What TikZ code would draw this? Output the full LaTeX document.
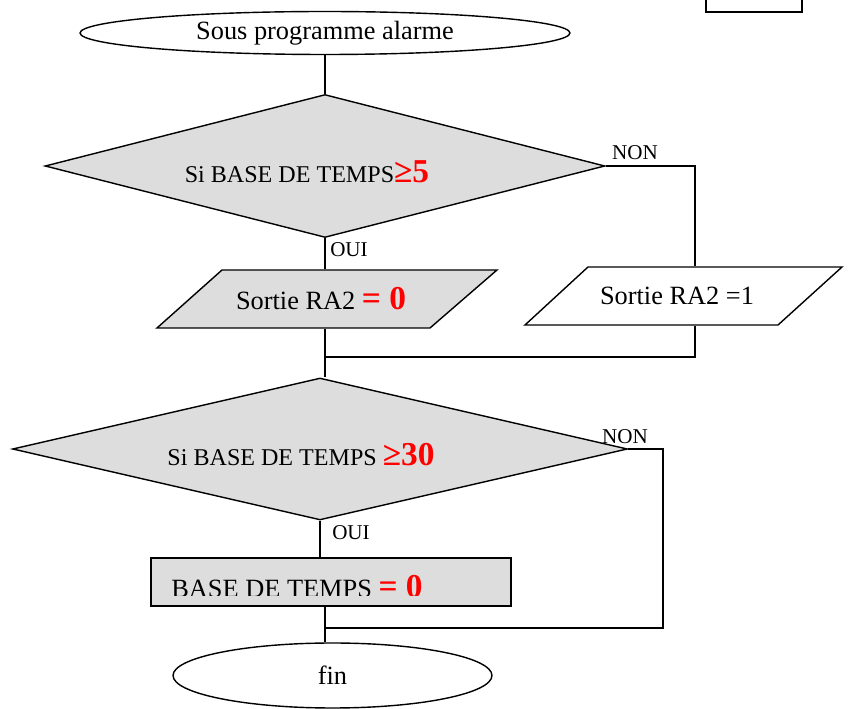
\documentclass[tikz,border=0pt]{standalone}
\usepackage{fontspec}
\setmainfont{Liberation Serif}
\usepackage{tikz}
\usetikzlibrary{positioning,shapes.geometric}
\definecolor{boxgray}{HTML}{DDDDDD}
\newcommand{\redval}[1]{\textcolor{red}{\bfseries\fontsize{19}{22}\selectfont #1}}

\begin{document}
\begin{tikzpicture}[
    x=0.02cm, y=-0.02cm,
    line width=0.8pt,
    every node/.style = {font=\fontsize{15}{18}\selectfont},
    term/.style = {draw, ellipse, inner sep=0pt},
    test/.style = {draw, diamond, fill=boxgray, inner sep=0pt},
    io/.style = {draw, line join=miter},
    slot/.style = {inner sep=0pt, minimum height=1.16cm},
    box/.style = {draw, rectangle, fill=boxgray, inner sep=0pt},
    txt/.style = {inner sep=0pt, font=\fontsize{13.7}{16}\selectfont},
    tag/.style = {inner sep=0pt, font=\fontsize{12}{14}\selectfont}
]
\useasboundingbox (0,0) rectangle (850,709);

\node (corner) [draw, minimum width=1.92cm, minimum height=0.88cm] at (754,-10) {};
\node (start) [term, minimum width=9.8cm, minimum height=0.86cm] at (325,33) {Sous programme alarme};

\node (d1) [test, minimum width=11.2cm, minimum height=2.86cm] at (325,166) {};
\node (t1) [txt] at (307,172) {Si BASE DE TEMPS\redval{≥5}};

% parallelograms
\draw[io, fill=boxgray] (222,270) -- (497,270) -- (430,328) -- (157,328) -- cycle;
\node (p1) [slot] at (321,299) {Sortie RA2 \redval{= 0}};
\draw[io] (588,267) -- (842,267) -- (778,325) -- (525,325) -- cycle;
\node (p2) [slot] at (677,296) {Sortie RA2 =1};
\coordinate (j1) at (325,357);

\node (d2) [test, minimum width=12.3cm, minimum height=2.84cm] at (320,449) {};
\node (t4) [txt] at (301,455) {Si BASE DE TEMPS \redval{≥30}};
\node (raz) [box, minimum width=7.2cm, minimum height=0.96cm] at (331,582) {};
\begin{scope}
  \clip ([yshift=0.22cm]raz.south west) rectangle (raz.north east);
  \node (t5) [inner sep=0pt, anchor=base] at (297,598) {BASE DE TEMPS \redval{= 0}};
\end{scope}
\coordinate (j2) at (325,628);
\node (fin) [term, minimum width=6.38cm, minimum height=1.3cm] at (332.5,675.5) {fin};

\node (non1) [tag] at (635,153) {NON};
\node (oui1) [tag] at (349,250) {OUI};
\node (non2) [tag] at (625,437) {NON};
\node (oui2) [tag] at (351,533) {OUI};

\draw[-] (start) to (d1);
\draw[-] (d1.south) to (d1.south |- p1.north);
\draw[-] (d1.east) -| ([xshift=0.36cm]p2.north);
\draw[-] (d1.south |- p1.south) to (d2.north -| d1.south);
\draw[-] ([xshift=0.36cm]p2.south) |- (j1);
\draw[-] (d2.south) to (d2.south |- raz.north);
\draw[-] (d2.east) -- ++(35,0) |- (j2);
\draw[-] (d1.south |- raz.south) to (d1.south |- fin.north);
\end{tikzpicture}
\end{document}
